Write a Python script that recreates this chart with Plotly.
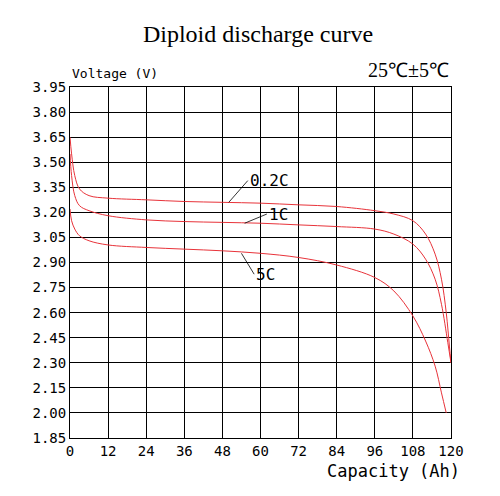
import plotly.graph_objects as go

cap_02 = [0, 0.5, 1.5, 3, 6, 12, 24, 36, 48, 60, 72, 84, 96, 102, 108, 112, 115, 117, 118.5, 119.5, 120]
v_02 = [3.65, 3.55, 3.42, 3.34, 3.30, 3.285, 3.275, 3.265, 3.26, 3.255, 3.245, 3.235, 3.21, 3.19, 3.15, 3.07, 2.95, 2.80, 2.60, 2.40, 2.30]
cap_1 = [0, 0.5, 1.5, 3, 6, 12, 24, 36, 48, 60, 72, 84, 96, 102, 108, 112, 115, 117, 119, 120]
v_1 = [3.55, 3.42, 3.30, 3.24, 3.21, 3.18, 3.155, 3.145, 3.14, 3.135, 3.125, 3.115, 3.10, 3.07, 3.01, 2.92, 2.80, 2.65, 2.42, 2.30]
cap_5 = [0, 0.5, 1.5, 3, 6, 12, 24, 36, 48, 60, 72, 84, 96, 102, 108, 112, 115, 117, 118.5]
v_5 = [3.22, 3.15, 3.10, 3.06, 3.03, 3.005, 2.99, 2.98, 2.97, 2.955, 2.93, 2.885, 2.81, 2.73, 2.58, 2.43, 2.28, 2.12, 2.00]

x_ticks = [0, 12, 24, 36, 48, 60, 72, 84, 96, 108, 120]
y_ticks = [1.85, 2.00, 2.15, 2.30, 2.45, 2.60, 2.75, 2.90, 3.05, 3.20, 3.35, 3.50, 3.65, 3.80, 3.95]

red = "#e8333a"
fig = go.Figure()
for c, v in [(cap_02, v_02), (cap_1, v_1), (cap_5, v_5)]:
    fig.add_trace(go.Scatter(x=c, y=v, mode="lines", line=dict(color=red, width=1, shape="spline"),
                             showlegend=False))

for txt, xa, ya, xt, yt in [("0.2C", 50, 3.26, 56, 3.39), ("1C", 55, 3.135, 62, 3.19), ("5C", 54, 2.955, 58, 2.83)]:
    fig.add_annotation(x=xa, y=ya, ax=xt, ay=yt, axref="x", ayref="y", text=txt, showarrow=True,
                       arrowhead=0, arrowwidth=0.8, arrowcolor="black", xanchor="left",
                       font=dict(family="DejaVu Sans Mono", size=16, color="black"))

serif = "Liberation Serif"
fig.update_layout(
    width=500, height=496, plot_bgcolor="white", paper_bgcolor="white",
    margin=dict(l=62, r=57, t=79, b=66),
    title=dict(text="Diploid discharge curve", x=0.5, y=0.965, xanchor="center",
               font=dict(family=serif, size=24, color="black")),
    font=dict(family="DejaVu Sans Mono", size=14, color="black"),
)
fig.add_annotation(x=0, y=1.01, xref="paper", yref="paper", text="Voltage (V)", showarrow=False,
                   xanchor="left", yanchor="bottom", font=dict(family="DejaVu Sans Mono", size=13))
fig.add_annotation(x=1, y=1.01, xref="paper", yref="paper", text="25℃±5℃", showarrow=False,
                   xanchor="right", yanchor="bottom", font=dict(family=serif, size=20))
fig.add_annotation(x=1.03, y=-0.06, xref="paper", yref="paper", text="Capacity (Ah)", showarrow=False,
                   xanchor="right", yanchor="top", font=dict(family="DejaVu Sans Mono", size=17))
fig.update_xaxes(range=[0, 120], tickvals=x_ticks, showgrid=True, gridcolor="black", gridwidth=0.6,
                 showline=True, linecolor="black", mirror=True, zeroline=False, ticks="",
                 automargin=False)
fig.update_yaxes(range=[1.85, 3.95], tickvals=y_ticks, tickformat=".2f", showgrid=True, gridcolor="black",
                 gridwidth=0.6, showline=True, linecolor="black", mirror=True, zeroline=False, ticks="",
                 automargin=False)
fig.write_html("out.html")
